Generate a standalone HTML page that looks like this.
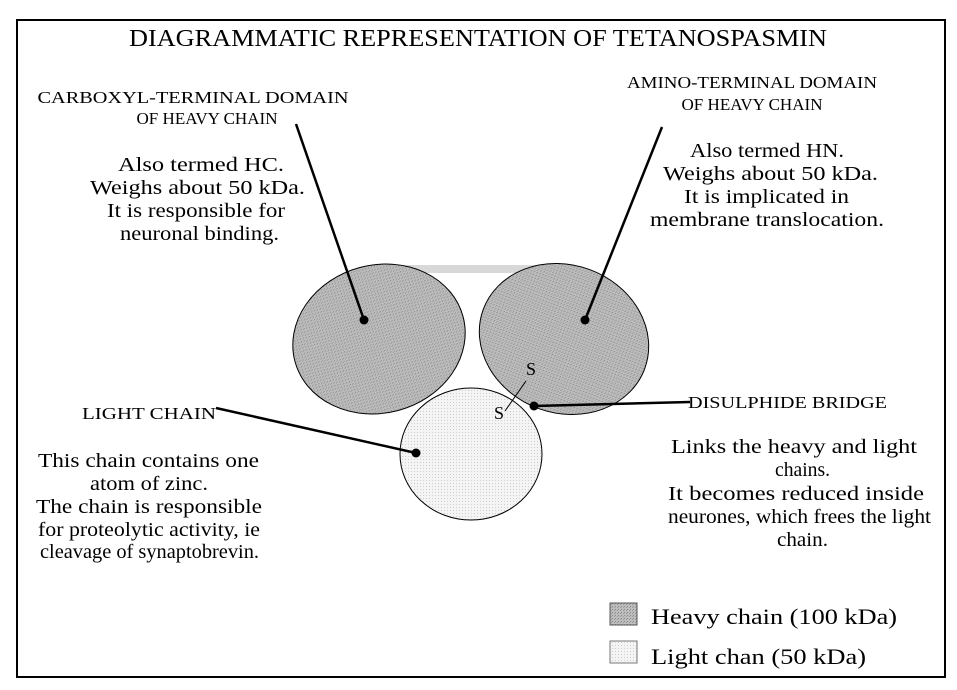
<!DOCTYPE html>
<html><head><meta charset="utf-8"><style>
html,body{margin:0;padding:0;background:#fff;}
svg{display:block;font-family:"Liberation Serif",serif;}
</style></head><body>
<svg width="957" height="690" viewBox="0 0 957 690" xmlns="http://www.w3.org/2000/svg">
<defs>
<pattern id="hv" width="3" height="3" patternUnits="userSpaceOnUse"><rect width="3" height="3" fill="#bdbdbd"/><rect width="1" height="1" fill="#8a8a8a"/><rect x="2" y="1" width="1" height="1" fill="#9a9a9a"/></pattern>
<pattern id="lt" width="3" height="3" patternUnits="userSpaceOnUse"><rect width="3" height="3" fill="#f4f4f4"/><rect width="1" height="1" fill="#cfcfcf"/></pattern>
</defs>
<rect x="17" y="20" width="928" height="657" fill="#fff" stroke="#000" stroke-width="2"/>
<text x="478" y="46" font-size="24" text-anchor="middle" textLength="698" lengthAdjust="spacingAndGlyphs">DIAGRAMMATIC REPRESENTATION OF TETANOSPASMIN</text>

<g font-size="17" text-anchor="middle" lengthAdjust="spacingAndGlyphs">
<text x="193" y="103" textLength="311" lengthAdjust="spacingAndGlyphs">CARBOXYL-TERMINAL DOMAIN</text>
<text x="207" y="124" textLength="141" lengthAdjust="spacingAndGlyphs">OF HEAVY CHAIN</text>
<text x="752" y="88" textLength="250" lengthAdjust="spacingAndGlyphs">AMINO-TERMINAL DOMAIN</text>
<text x="752" y="110" textLength="141" lengthAdjust="spacingAndGlyphs">OF HEAVY CHAIN</text>
</g>
<g font-size="20">
<text x="118" y="171" textLength="166" lengthAdjust="spacingAndGlyphs">Also termed HC.</text>
<text x="90" y="194" textLength="215" lengthAdjust="spacingAndGlyphs">Weighs about 50 kDa.</text>
<text x="107" y="217" textLength="178" lengthAdjust="spacingAndGlyphs">It is responsible for</text>
<text x="120" y="240" textLength="159" lengthAdjust="spacingAndGlyphs">neuronal binding.</text>
<text x="690" y="157" textLength="154" lengthAdjust="spacingAndGlyphs">Also termed HN.</text>
<text x="663" y="180" textLength="215" lengthAdjust="spacingAndGlyphs">Weighs about 50 kDa.</text>
<text x="684" y="203" textLength="165" lengthAdjust="spacingAndGlyphs">It is implicated in</text>
<text x="650" y="226" textLength="234" lengthAdjust="spacingAndGlyphs">membrane translocation.</text>
<text x="38" y="467" textLength="221" lengthAdjust="spacingAndGlyphs">This chain contains one</text>
<text x="90" y="490" textLength="118" lengthAdjust="spacingAndGlyphs">atom of zinc.</text>
<text x="36" y="513" textLength="226" lengthAdjust="spacingAndGlyphs">The chain is responsible</text>
<text x="38" y="536" textLength="222" lengthAdjust="spacingAndGlyphs">for proteolytic activity, ie</text>
<text x="40" y="558" textLength="219" lengthAdjust="spacingAndGlyphs">cleavage of synaptobrevin.</text>
<text x="671" y="453" textLength="246" lengthAdjust="spacingAndGlyphs">Links the heavy and light</text>
<text x="775" y="476" textLength="55" lengthAdjust="spacingAndGlyphs">chains.</text>
<text x="668" y="500" textLength="256" lengthAdjust="spacingAndGlyphs">It becomes reduced inside</text>
<text x="668" y="523" textLength="263" lengthAdjust="spacingAndGlyphs">neurones, which frees the light</text>
<text x="777" y="546" textLength="51" lengthAdjust="spacingAndGlyphs">chain.</text>
</g>
<text x="82" y="419" font-size="17" textLength="134" lengthAdjust="spacingAndGlyphs">LIGHT CHAIN</text>
<text x="688" y="408" font-size="17" textLength="199" lengthAdjust="spacingAndGlyphs">DISULPHIDE BRIDGE</text>

<!-- shapes -->
<rect x="398" y="265" width="147" height="8" fill="#d8d8d8"/>
<ellipse cx="379" cy="339" rx="87" ry="74" transform="rotate(-15 379 339)" fill="url(#hv)" stroke="#000" stroke-width="1"/>
<ellipse cx="564" cy="339" rx="86" ry="74" transform="rotate(20 564 339)" fill="url(#hv)" stroke="#000" stroke-width="1"/>
<ellipse cx="471" cy="454" rx="71" ry="66" fill="url(#lt)" stroke="#000" stroke-width="1"/>
<text x="526" y="375" font-size="18">S</text>
<text x="494" y="419" font-size="18">S</text>
<line x1="505" y1="411" x2="526" y2="381" stroke="#000" stroke-width="1"/>

<!-- connectors -->
<g stroke="#000" stroke-width="2.5">
<line x1="296" y1="124" x2="364" y2="320"/>
<line x1="662" y1="127" x2="585" y2="320"/>
<line x1="216" y1="408" x2="416" y2="453"/>
<line x1="534" y1="406" x2="690" y2="402"/>
</g>
<g fill="#000">
<circle cx="364" cy="320" r="4.5"/>
<circle cx="585" cy="320" r="4.5"/>
<circle cx="416" cy="453" r="4.5"/>
<circle cx="534" cy="406" r="4.5"/>
</g>

<!-- legend -->
<rect x="610" y="603" width="27" height="22" fill="url(#hv)" stroke="#555" stroke-width="1"/>
<rect x="610" y="641" width="27" height="22" fill="url(#lt)" stroke="#777" stroke-width="1"/>
<text x="651" y="624" font-size="22" textLength="246" lengthAdjust="spacingAndGlyphs">Heavy chain (100 kDa)</text>
<text x="651" y="664" font-size="22" textLength="215" lengthAdjust="spacingAndGlyphs">Light chan (50 kDa)</text>
</svg>
</body></html>
